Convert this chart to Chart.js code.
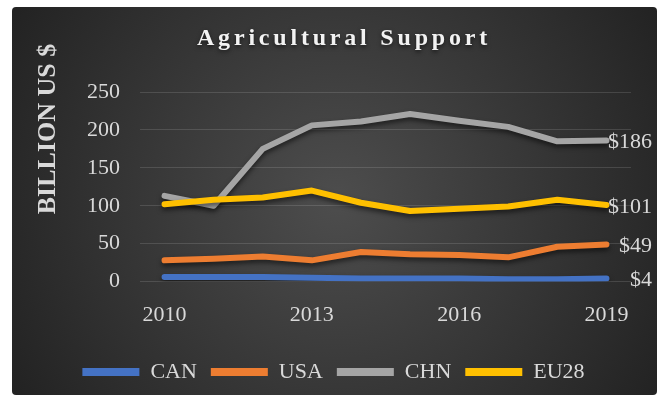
<!DOCTYPE html>
<html>
<head>
<meta charset="utf-8">
<script src="https://cdn.jsdelivr.net/npm/chart.js@4/dist/chart.umd.min.js"></script>
<style>
  html, body { margin: 0; padding: 0; background: #fff; }
  #wrap { width: 662px; height: 397px; position: relative; }
</style>
</head>
<body>
<div id="wrap"><canvas id="c"></canvas></div>
<script>
const years = ['2010','2011','2012','2013','2014','2015','2016','2017','2018','2019'];
const can  = [6, 6, 6, 5, 4, 4, 4, 3, 3, 4];
const usa  = [28, 30, 33, 28, 39, 36, 35, 32, 46, 49];
const chn  = [113, 100, 175, 206, 211, 221, 212, 204, 185, 186];
const eu28 = [102, 108, 111, 120, 104, 93, 96, 99, 108, 101];
const seriesNames = ['CAN', 'USA', 'CHN', 'EU28'];
const colors = ['#4472C4', '#ED7D31', '#A5A5A5', '#FFC000'];
const yTitle = 'BILLION US $';

const textColor = '#d9d9d9';
const serif = '"Liberation Serif", "Times New Roman", serif';

// frame + dark radial background
const bgPlugin = {
  id: 'bg',
  beforeDraw(chart) {
    const ctx = chart.ctx;
    ctx.save();
    const g = ctx.createRadialGradient(337, 200, 10, 337, 200, 380);
    g.addColorStop(0, '#4c4c4c');
    g.addColorStop(1, '#222222');
    ctx.fillStyle = g;
    ctx.beginPath();
    ctx.roundRect(12, 7, 645, 388, 4);
    ctx.fill();
    ctx.restore();
  }
};

// title with letter spacing and soft shadow, plus the axis title up top
const titlePlugin = {
  id: 'ttl',
  afterDraw(chart) {
    const ctx = chart.ctx;
    ctx.save();
    ctx.font = 'bold 24px ' + serif;
    ctx.letterSpacing = '3.8px';
    ctx.fillStyle = '#f2f2f2';
    ctx.textAlign = 'center';
    ctx.textBaseline = 'middle';
    ctx.shadowColor = 'rgba(0,0,0,0.6)';
    ctx.shadowBlur = 4;
    ctx.shadowOffsetY = 2;
    ctx.fillText('Agricultural Support', 344, 39);
    ctx.restore();

    ctx.save();
    ctx.translate(48, 129);
    ctx.rotate(-Math.PI / 2);
    ctx.font = 'bold 26px ' + serif;
    ctx.fillStyle = textColor;
    ctx.textAlign = 'center';
    ctx.textBaseline = 'middle';
    ctx.fillText(yTitle, 0, 0);
    ctx.restore();
  }
};

// drop shadow under each line
const shadowPlugin = {
  id: 'lineShadow',
  beforeDatasetDraw(chart) {
    const ctx = chart.ctx;
    ctx.save();
    ctx.shadowColor = 'rgba(0,0,0,0.55)';
    ctx.shadowBlur = 5;
    ctx.shadowOffsetY = 3;
  },
  afterDatasetDraw(chart) {
    chart.ctx.restore();
  }
};

// value label for the last point
const endLabelPlugin = {
  id: 'endLabels',
  afterDatasetsDraw(chart) {
    const ctx = chart.ctx;
    ctx.save();
    ctx.font = '22px ' + serif;
    ctx.fillStyle = textColor;
    ctx.textAlign = 'right';
    ctx.textBaseline = 'middle';
    chart.data.datasets.forEach((ds, i) => {
      const meta = chart.getDatasetMeta(i);
      const pt = meta.data[meta.data.length - 1];
      const v = ds.data[ds.data.length - 1];
      ctx.fillText('$' + v, 652, pt.y + 2);
    });
    ctx.restore();
  }
};

const allSeries = [can, usa, chn, eu28];
const datasets = allSeries.map((d, i) => ({
  label: seriesNames[i],
  data: d,
  borderColor: colors[i],
  backgroundColor: colors[i],
  borderWidth: 6,
  borderCapStyle: 'round',
  borderJoinStyle: 'round',
  pointRadius: 0,
  tension: 0,
  order: 3 - i
}));

new Chart(document.getElementById('c'), {
  type: 'line',
  data: { labels: years, datasets },
  options: {
    responsive: true,
    maintainAspectRatio: false,
    animation: false,
    layout: { padding: { left: 36, right: 31, top: 92, bottom: 4 } },
    scales: {
      x: {
        offset: true,
        afterFit(scale) { scale.height += 7; },
        grid: { display: false },
        border: { display: false },
        ticks: {
          autoSkip: false,
          maxRotation: 0,
          padding: 12,
          color: textColor,
          font: { family: serif, size: 22 },
          callback: (v, i) => (i % 3 === 0 ? years[i] : '')
        }
      },
      y: {
        min: 0,
        max: 250,
        afterFit(scale) { scale.width = 104; },
        grid: { color: 'rgba(255,255,255,0.13)', drawTicks: false },
        border: { display: false },
        ticks: {
          stepSize: 50,
          padding: 20,
          color: textColor,
          font: { family: serif, size: 22 }
        }
      }
    },
    plugins: {
      legend: {
        position: 'bottom',
        labels: {
          color: textColor,
          font: { family: serif, size: 22 },
          boxWidth: 57,
          boxHeight: 8,
          useBorderRadius: true,
          borderRadius: 4,
          padding: 14,
          generateLabels(chart) {
            return chart.data.datasets.map((ds, i) => ({
              text: ds.label,
              fillStyle: ds.borderColor,
              strokeStyle: ds.borderColor,
              lineWidth: 0,
              fontColor: textColor,
              datasetIndex: i
            }));
          }
        }
      },
      tooltip: { enabled: false }
    }
  },
  plugins: [bgPlugin, titlePlugin, shadowPlugin, endLabelPlugin]
});
</script>
</body>
</html>
